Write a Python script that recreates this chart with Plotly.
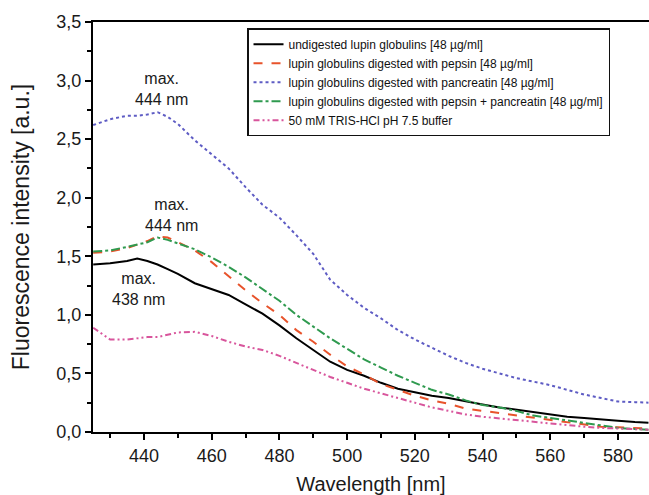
import plotly.graph_objects as go

wavelength = [425, 430, 435, 438, 441, 444, 447, 450, 455, 460, 465, 470, 475, 480, 485, 490,
              495, 500, 505, 510, 515, 520, 525, 530, 535, 540, 545, 550, 555, 560, 565, 570,
              575, 580, 585, 589]

undigested = [1.43, 1.44, 1.46, 1.48, 1.46, 1.43, 1.39, 1.35, 1.27, 1.22, 1.17, 1.09, 1.01, 0.91,
              0.80, 0.70, 0.60, 0.53, 0.48, 0.42, 0.37, 0.34, 0.31, 0.29, 0.26, 0.235, 0.21, 0.19,
              0.17, 0.15, 0.13, 0.12, 0.105, 0.095, 0.085, 0.08]

pepsin = [1.53, 1.54, 1.57, 1.60, 1.63, 1.67, 1.66, 1.62, 1.55, 1.45, 1.33, 1.21, 1.10, 1.00,
          0.87, 0.77, 0.66, 0.56, 0.49, 0.41, 0.36, 0.31, 0.27, 0.24, 0.20, 0.18, 0.16, 0.14,
          0.12, 0.10, 0.08, 0.06, 0.045, 0.04, 0.035, 0.03]

pancreatin = [2.62, 2.67, 2.70, 2.70, 2.71, 2.73, 2.69, 2.63, 2.49, 2.37, 2.25, 2.09, 1.94, 1.83,
              1.68, 1.52, 1.30, 1.17, 1.06, 0.97, 0.87, 0.79, 0.72, 0.65, 0.59, 0.54, 0.50, 0.46,
              0.43, 0.40, 0.36, 0.32, 0.29, 0.26, 0.255, 0.25]

pepsin_pancreatin = [1.54, 1.55, 1.58, 1.60, 1.62, 1.66, 1.64, 1.61, 1.56, 1.49, 1.41, 1.32, 1.22,
                     1.12, 1.00, 0.90, 0.80, 0.71, 0.62, 0.55, 0.48, 0.42, 0.36, 0.32, 0.27, 0.23,
                     0.21, 0.18, 0.14, 0.12, 0.10, 0.075, 0.055, 0.035, 0.025, 0.02]

buffer = [0.89, 0.79, 0.79, 0.80, 0.81, 0.81, 0.83, 0.85, 0.855, 0.82, 0.77, 0.73, 0.70, 0.65,
          0.59, 0.53, 0.47, 0.42, 0.37, 0.33, 0.29, 0.25, 0.21, 0.18, 0.15, 0.13, 0.115, 0.10,
          0.085, 0.07, 0.06, 0.045, 0.035, 0.03, 0.025, 0.02]

series_names = [
    "undigested lupin globulins [48 µg/ml]",
    "lupin globulins digested with pepsin [48 µg/ml]",
    "lupin globulins digested with pancreatin [48 µg/ml]",
    "lupin globulins digested with pepsin + pancreatin [48 µg/ml]",
    "50 mM TRIS-HCl pH 7.5 buffer",
]
series_values = [undigested, pepsin, pancreatin, pepsin_pancreatin, buffer]
series_colors = ["#000000", "#e8532b", "#5e5cc4", "#2f9a4f", "#d8559c"]
series_dash = ["solid", "dash", "dot", "dashdot", "6px,3px,2px,3px,2px,3px"]

annot_text = ["max.<br>444 nm", "max.<br>444 nm", "max.<br>438 nm"]
annot_x = [445.3, 448.0, 438.5]
annot_y = [2.93, 1.85, 1.22]

fig = go.Figure()
for name, vals, col, dash in zip(series_names, series_values, series_colors, series_dash):
    fig.add_trace(go.Scatter(
        x=wavelength, y=vals, mode="lines", name=name,
        line=dict(color=col, width=2, dash=dash),
    ))

for t, ax, ay in zip(annot_text, annot_x, annot_y):
    fig.add_annotation(x=ax, y=ay, text=t, showarrow=False,
                       font=dict(size=16, color="#1a1a1a"))

font_family = "Liberation Sans, Arial, sans-serif"
fig.update_layout(
    width=649, height=495,
    margin=dict(l=93, r=0, t=22, b=63),
    paper_bgcolor="white", plot_bgcolor="white",
    separators=", ",
    font=dict(family=font_family, color="#1a1a1a"),
    showlegend=True,
    legend=dict(
        x=0.277, y=0.985, xanchor="left", yanchor="top",
        bgcolor="white", bordercolor="#111111", borderwidth=1.5,
        font=dict(size=12, color="#111111"),
        itemwidth=30, tracegroupgap=0,
    ),
    xaxis=dict(
        range=[424.94, 589.16], tick0=440, dtick=20,
        showgrid=False, zeroline=False, automargin=False,
        showline=True, linecolor="#000000", linewidth=2, mirror=True,
        ticks="outside", ticklen=6, tickwidth=1.5, tickcolor="#000000",
        tickfont=dict(size=18),
        minor=dict(dtick=10, tick0=430, ticks="outside", ticklen=4, tickwidth=1.5, tickcolor="#000000"),
        title=dict(text="Wavelength [nm]", font=dict(size=20), standoff=12),
    ),
    yaxis=dict(
        range=[0, 3.5], tick0=0, dtick=0.5, tickformat=".1f",
        showgrid=False, zeroline=False, automargin=False,
        showline=True, linecolor="#000000", linewidth=2,
        ticks="outside", ticklen=6, tickwidth=1.5, tickcolor="#000000",
        tickfont=dict(size=18),
        minor=dict(dtick=0.25, ticks="outside", ticklen=4, tickwidth=1.5, tickcolor="#000000"),
        title=dict(text="Fluorescence intensity [a.u.]", font=dict(size=23), standoff=20),
    ),
)

fig.write_html("out.html", config={"displayModeBar": False},
               post_script="document.body.style.margin='0';")
